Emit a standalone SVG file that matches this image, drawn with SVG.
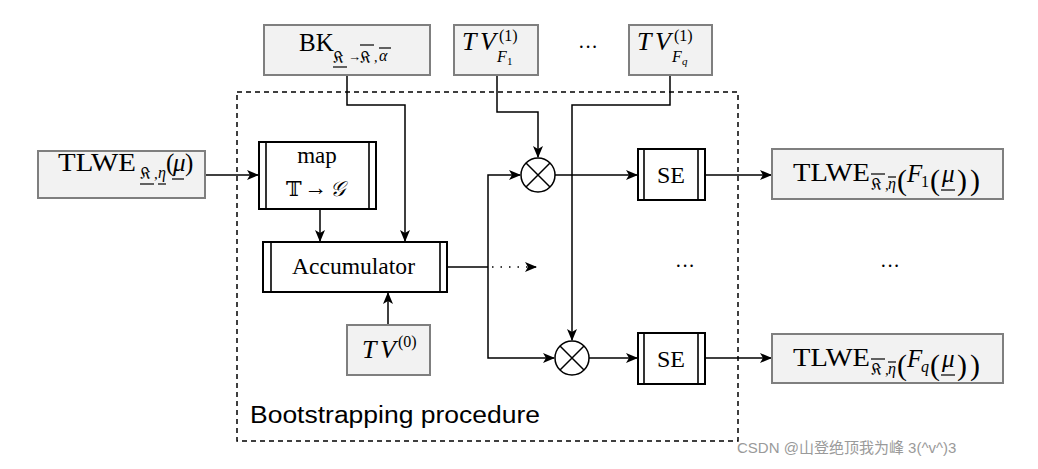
<svg xmlns="http://www.w3.org/2000/svg" width="1038" height="469" viewBox="0 0 1038 469">
<style>
.gbox{fill:#f2f2f2;stroke:#7f7f7f;stroke-width:2}
.wbox{fill:#ffffff;stroke:#000;stroke-width:2}
.bar{stroke:#000;stroke-width:1.6}
.m{font-family:"Liberation Serif","Times New Roman",serif;fill:#000}
.i{font-style:italic}
.sym{font-family:"DejaVu Serif","DejaVu Sans","Liberation Serif",serif;fill:#000}
.ln{fill:none;stroke:#000;stroke-width:1.5}
.ul{stroke:#000;stroke-width:1.2}
.conn{fill:none;stroke:#000;stroke-width:1.5}
</style>
<defs>
<marker id="ah" viewBox="0 0 12 10" refX="11" refY="5" markerWidth="12" markerHeight="10" markerUnits="userSpaceOnUse" orient="auto">
<path d="M0,0 L12,5 L0,10 L3,5 z" fill="#000"/>
</marker>
</defs>
<rect x="237" y="92" width="501" height="349" fill="none" stroke="#000" stroke-width="1.5" stroke-dasharray="5,4"/>
<text x="250" y="423" font-family="Liberation Sans, Arial, sans-serif" font-size="23" textLength="290" lengthAdjust="spacingAndGlyphs" fill="#000">Bootstrapping procedure</text>
<g id="connectors">
<path class="conn" d="M205,175 H258" marker-end="url(#ah)"/>
<path class="conn" d="M320,209 V241" marker-end="url(#ah)"/>
<path class="conn" d="M347,75 V105 H405 V241" marker-end="url(#ah)"/>
<path class="conn" d="M388,325 V293" marker-end="url(#ah)"/>
<path class="conn" d="M447,267 H488"/>
<path class="conn" d="M488,267 V175 H520" marker-end="url(#ah)"/>
<path class="conn" d="M488,267 V358 H554" marker-end="url(#ah)"/>
<path class="conn" d="M492,267 H536" stroke-dasharray="1.5,7" marker-end="url(#ah)"/>
<path class="conn" d="M497,75 V112 H538 V157" marker-end="url(#ah)"/>
<path class="conn" d="M670,75 V105 H572 V340" marker-end="url(#ah)"/>
<path class="conn" d="M555,175 H637" marker-end="url(#ah)"/>
<path class="conn" d="M589,358 H637" marker-end="url(#ah)"/>
<path class="conn" d="M705,175 H771" marker-end="url(#ah)"/>
<path class="conn" d="M705,358 H771" marker-end="url(#ah)"/>
</g>
<g id="bk">
<rect class="gbox" x="264" y="25" width="166" height="50"/>
<text class="m" x="299" y="51" font-size="25">BK</text>
<text class="sym" x="333" y="63" font-size="16">𝔎</text>
<line class="ul" x1="333" y1="67" x2="347" y2="67"/>
<text class="m" x="348" y="61" font-size="13">→</text>
<text class="sym" x="360" y="63" font-size="16">𝔎</text>
<line class="ul" x1="360" y1="45" x2="374" y2="45"/>
<text class="m" x="374" y="62" font-size="14">,</text>
<text class="m i" x="379" y="61" font-size="16">α</text>
<line class="ul" x1="379" y1="48" x2="391" y2="48"/>
</g>
<g id="tvf1">
<rect class="gbox" x="454" y="25" width="84" height="50"/>
<text class="m i" x="462" y="50" font-size="26" textLength="34" lengthAdjust="spacing">TV</text>
<text class="m" x="499" y="41" font-size="16">(1)</text>
<text class="m i" x="497" y="62" font-size="16">F</text>
<text class="m" x="507" y="65" font-size="11">1</text>
</g>
<text class="m" x="588" y="54" font-size="20" text-anchor="middle">···</text>
<g id="tvfq">
<rect class="gbox" x="629" y="25" width="83" height="50"/>
<text class="m i" x="637" y="50" font-size="26" textLength="34" lengthAdjust="spacing">TV</text>
<text class="m" x="674" y="41" font-size="16">(1)</text>
<text class="m i" x="672" y="62" font-size="16">F</text>
<text class="m i" x="682" y="65" font-size="11">q</text>
</g>
<g id="tlwe-in">
<rect class="gbox" x="38" y="151" width="167" height="47"/>
<text class="m" x="58" y="171" font-size="26" textLength="78" lengthAdjust="spacingAndGlyphs">TLWE</text>
<text class="sym" x="140" y="179" font-size="16">𝔎</text>
<line class="ul" x1="140" y1="184" x2="154" y2="184"/>
<text class="m" x="154" y="179" font-size="15">,</text>
<text class="m i" x="158" y="178" font-size="16">η</text>
<line class="ul" x1="158" y1="184" x2="166" y2="184"/>
<text class="m" x="166" y="171" font-size="25">(</text>
<text class="m i" x="173" y="171" font-size="25">μ</text>
<line class="ul" x1="172" y1="179" x2="184" y2="179"/>
<text class="m" x="185" y="171" font-size="25">)</text>
</g>
<g id="map">
<rect class="wbox" x="259" y="142" width="117" height="67"/>
<line class="bar" x1="266" y1="142" x2="266" y2="209"/>
<line class="bar" x1="369" y1="142" x2="369" y2="209"/>
<text class="m" x="317" y="163" font-size="23" text-anchor="middle">map</text>
<text class="sym" x="286" y="196" font-size="21">𝕋</text>
<text class="m" x="304" y="195" font-size="23">→</text>
<text class="sym" x="330" y="196" font-size="21" font-style="italic">𝒢</text>
</g>
<g id="accumulator">
<rect class="wbox" x="263" y="242" width="184" height="50"/>
<line class="bar" x1="271" y1="242" x2="271" y2="292"/>
<line class="bar" x1="440" y1="242" x2="440" y2="292"/>
<text class="m" x="292" y="274" font-size="23" textLength="123" lengthAdjust="spacingAndGlyphs">Accumulator</text>
</g>
<g id="tv0">
<rect class="gbox" x="347" y="325" width="83" height="50"/>
<text class="m i" x="362" y="358" font-size="26" textLength="34" lengthAdjust="spacing">TV</text>
<text class="m" x="398" y="347" font-size="16">(0)</text>
</g>
<g id="mult1">
<circle cx="538" cy="175" r="17" fill="#fff" stroke="#000" stroke-width="1.5"/>
<path class="ln" d="M526,163 L550,187 M550,163 L526,187"/>
</g>
<g id="mult2">
<circle cx="572" cy="358" r="17" fill="#fff" stroke="#000" stroke-width="1.5"/>
<path class="ln" d="M560,346 L584,370 M584,346 L560,370"/>
</g>
<g id="se1">
<rect class="wbox" x="638" y="149" width="67" height="51"/>
<line class="bar" x1="644" y1="149" x2="644" y2="200"/>
<line class="bar" x1="698" y1="149" x2="698" y2="200"/>
<text class="m" x="671" y="183" font-size="24" text-anchor="middle">SE</text>
</g>
<g id="se2">
<rect class="wbox" x="638" y="333" width="67" height="51"/>
<line class="bar" x1="644" y1="333" x2="644" y2="384"/>
<line class="bar" x1="698" y1="333" x2="698" y2="384"/>
<text class="m" x="671" y="367" font-size="24" text-anchor="middle">SE</text>
</g>
<text class="m" x="685" y="273" font-size="20" text-anchor="middle">···</text>
<text class="m" x="890" y="273" font-size="20" text-anchor="middle">···</text>
<g id="out1">
<rect class="gbox" x="772" y="149" width="231" height="50"/>
<text class="m" x="793" y="181" font-size="26" textLength="77" lengthAdjust="spacingAndGlyphs">TLWE</text>
<text class="sym" x="871" y="190" font-size="16">𝔎</text>
<line class="ul" x1="871" y1="174" x2="885" y2="174"/>
<text class="m" x="885" y="190" font-size="15">,</text>
<text class="m i" x="888" y="189" font-size="16">η</text>
<line class="ul" x1="888" y1="177" x2="896" y2="177"/>
<text class="m" x="897" y="190" font-size="30">(</text>
<text class="m i" x="907" y="182" font-size="25">F</text>
<text class="m" x="921" y="187" font-size="16">1</text>
<text class="m" x="930" y="190" font-size="30">(</text>
<text class="m i" x="942" y="182" font-size="25">μ</text>
<line class="ul" x1="941" y1="190" x2="955" y2="190"/>
<text class="m" x="957" y="190" font-size="30">)</text>
<text class="m" x="970" y="190" font-size="30">)</text>
</g>
<g id="out2">
<rect class="gbox" x="772" y="334" width="231" height="49"/>
<text class="m" x="793" y="366" font-size="26" textLength="77" lengthAdjust="spacingAndGlyphs">TLWE</text>
<text class="sym" x="871" y="375" font-size="16">𝔎</text>
<line class="ul" x1="871" y1="359" x2="885" y2="359"/>
<text class="m" x="885" y="375" font-size="15">,</text>
<text class="m i" x="888" y="374" font-size="16">η</text>
<line class="ul" x1="888" y1="362" x2="896" y2="362"/>
<text class="m" x="897" y="375" font-size="30">(</text>
<text class="m i" x="907" y="367" font-size="25">F</text>
<text class="m i" x="921" y="372" font-size="16">q</text>
<text class="m" x="930" y="375" font-size="30">(</text>
<text class="m i" x="942" y="367" font-size="25">μ</text>
<line class="ul" x1="941" y1="375" x2="955" y2="375"/>
<text class="m" x="957" y="375" font-size="30">)</text>
<text class="m" x="970" y="375" font-size="30">)</text>
</g>
<text x="737" y="453" font-family="Liberation Sans, 'Noto Sans CJK SC', sans-serif" font-size="15" fill="#9a9a9a">CSDN @山登绝顶我为峰 3(^v^)3</text>
</svg>
